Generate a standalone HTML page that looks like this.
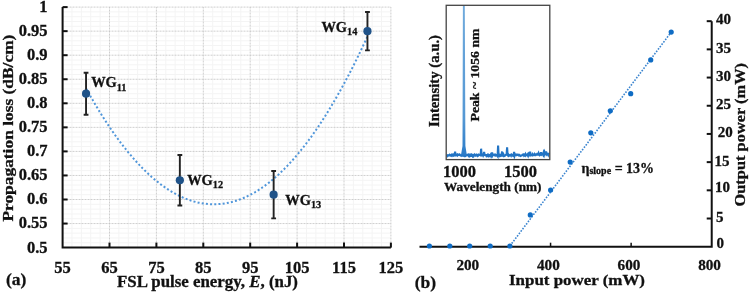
<!DOCTYPE html>
<html><head><meta charset="utf-8"><style>
html,body{margin:0;padding:0;background:#fff;width:749px;height:293px;overflow:hidden}
svg{display:block;filter:blur(0.35px)}
</style></head><body>
<svg width="749" height="293" viewBox="0 0 749 293">
<style>text{stroke:#111;stroke-width:0.3px}</style>
<rect width="749" height="293" fill="#fff"/>
<line x1="71.98" y1="7.10" x2="71.98" y2="247.60" stroke="#f4f4f4" stroke-width="1"/>
<line x1="81.36" y1="7.10" x2="81.36" y2="247.60" stroke="#f4f4f4" stroke-width="1"/>
<line x1="90.74" y1="7.10" x2="90.74" y2="247.60" stroke="#f4f4f4" stroke-width="1"/>
<line x1="100.12" y1="7.10" x2="100.12" y2="247.60" stroke="#f4f4f4" stroke-width="1"/>
<line x1="118.88" y1="7.10" x2="118.88" y2="247.60" stroke="#f4f4f4" stroke-width="1"/>
<line x1="128.26" y1="7.10" x2="128.26" y2="247.60" stroke="#f4f4f4" stroke-width="1"/>
<line x1="137.64" y1="7.10" x2="137.64" y2="247.60" stroke="#f4f4f4" stroke-width="1"/>
<line x1="147.02" y1="7.10" x2="147.02" y2="247.60" stroke="#f4f4f4" stroke-width="1"/>
<line x1="165.78" y1="7.10" x2="165.78" y2="247.60" stroke="#f4f4f4" stroke-width="1"/>
<line x1="175.16" y1="7.10" x2="175.16" y2="247.60" stroke="#f4f4f4" stroke-width="1"/>
<line x1="184.54" y1="7.10" x2="184.54" y2="247.60" stroke="#f4f4f4" stroke-width="1"/>
<line x1="193.92" y1="7.10" x2="193.92" y2="247.60" stroke="#f4f4f4" stroke-width="1"/>
<line x1="212.68" y1="7.10" x2="212.68" y2="247.60" stroke="#f4f4f4" stroke-width="1"/>
<line x1="222.06" y1="7.10" x2="222.06" y2="247.60" stroke="#f4f4f4" stroke-width="1"/>
<line x1="231.44" y1="7.10" x2="231.44" y2="247.60" stroke="#f4f4f4" stroke-width="1"/>
<line x1="240.82" y1="7.10" x2="240.82" y2="247.60" stroke="#f4f4f4" stroke-width="1"/>
<line x1="259.58" y1="7.10" x2="259.58" y2="247.60" stroke="#f4f4f4" stroke-width="1"/>
<line x1="268.96" y1="7.10" x2="268.96" y2="247.60" stroke="#f4f4f4" stroke-width="1"/>
<line x1="278.34" y1="7.10" x2="278.34" y2="247.60" stroke="#f4f4f4" stroke-width="1"/>
<line x1="287.72" y1="7.10" x2="287.72" y2="247.60" stroke="#f4f4f4" stroke-width="1"/>
<line x1="306.48" y1="7.10" x2="306.48" y2="247.60" stroke="#f4f4f4" stroke-width="1"/>
<line x1="315.86" y1="7.10" x2="315.86" y2="247.60" stroke="#f4f4f4" stroke-width="1"/>
<line x1="325.24" y1="7.10" x2="325.24" y2="247.60" stroke="#f4f4f4" stroke-width="1"/>
<line x1="334.62" y1="7.10" x2="334.62" y2="247.60" stroke="#f4f4f4" stroke-width="1"/>
<line x1="353.38" y1="7.10" x2="353.38" y2="247.60" stroke="#f4f4f4" stroke-width="1"/>
<line x1="362.76" y1="7.10" x2="362.76" y2="247.60" stroke="#f4f4f4" stroke-width="1"/>
<line x1="372.14" y1="7.10" x2="372.14" y2="247.60" stroke="#f4f4f4" stroke-width="1"/>
<line x1="381.52" y1="7.10" x2="381.52" y2="247.60" stroke="#f4f4f4" stroke-width="1"/>
<line x1="62.60" y1="242.79" x2="390.90" y2="242.79" stroke="#f4f4f4" stroke-width="1"/>
<line x1="62.60" y1="237.98" x2="390.90" y2="237.98" stroke="#f4f4f4" stroke-width="1"/>
<line x1="62.60" y1="233.17" x2="390.90" y2="233.17" stroke="#f4f4f4" stroke-width="1"/>
<line x1="62.60" y1="228.36" x2="390.90" y2="228.36" stroke="#f4f4f4" stroke-width="1"/>
<line x1="62.60" y1="218.74" x2="390.90" y2="218.74" stroke="#f4f4f4" stroke-width="1"/>
<line x1="62.60" y1="213.93" x2="390.90" y2="213.93" stroke="#f4f4f4" stroke-width="1"/>
<line x1="62.60" y1="209.12" x2="390.90" y2="209.12" stroke="#f4f4f4" stroke-width="1"/>
<line x1="62.60" y1="204.31" x2="390.90" y2="204.31" stroke="#f4f4f4" stroke-width="1"/>
<line x1="62.60" y1="194.69" x2="390.90" y2="194.69" stroke="#f4f4f4" stroke-width="1"/>
<line x1="62.60" y1="189.88" x2="390.90" y2="189.88" stroke="#f4f4f4" stroke-width="1"/>
<line x1="62.60" y1="185.07" x2="390.90" y2="185.07" stroke="#f4f4f4" stroke-width="1"/>
<line x1="62.60" y1="180.26" x2="390.90" y2="180.26" stroke="#f4f4f4" stroke-width="1"/>
<line x1="62.60" y1="170.64" x2="390.90" y2="170.64" stroke="#f4f4f4" stroke-width="1"/>
<line x1="62.60" y1="165.83" x2="390.90" y2="165.83" stroke="#f4f4f4" stroke-width="1"/>
<line x1="62.60" y1="161.02" x2="390.90" y2="161.02" stroke="#f4f4f4" stroke-width="1"/>
<line x1="62.60" y1="156.21" x2="390.90" y2="156.21" stroke="#f4f4f4" stroke-width="1"/>
<line x1="62.60" y1="146.59" x2="390.90" y2="146.59" stroke="#f4f4f4" stroke-width="1"/>
<line x1="62.60" y1="141.78" x2="390.90" y2="141.78" stroke="#f4f4f4" stroke-width="1"/>
<line x1="62.60" y1="136.97" x2="390.90" y2="136.97" stroke="#f4f4f4" stroke-width="1"/>
<line x1="62.60" y1="132.16" x2="390.90" y2="132.16" stroke="#f4f4f4" stroke-width="1"/>
<line x1="62.60" y1="122.54" x2="390.90" y2="122.54" stroke="#f4f4f4" stroke-width="1"/>
<line x1="62.60" y1="117.73" x2="390.90" y2="117.73" stroke="#f4f4f4" stroke-width="1"/>
<line x1="62.60" y1="112.92" x2="390.90" y2="112.92" stroke="#f4f4f4" stroke-width="1"/>
<line x1="62.60" y1="108.11" x2="390.90" y2="108.11" stroke="#f4f4f4" stroke-width="1"/>
<line x1="62.60" y1="98.49" x2="390.90" y2="98.49" stroke="#f4f4f4" stroke-width="1"/>
<line x1="62.60" y1="93.68" x2="390.90" y2="93.68" stroke="#f4f4f4" stroke-width="1"/>
<line x1="62.60" y1="88.87" x2="390.90" y2="88.87" stroke="#f4f4f4" stroke-width="1"/>
<line x1="62.60" y1="84.06" x2="390.90" y2="84.06" stroke="#f4f4f4" stroke-width="1"/>
<line x1="62.60" y1="74.44" x2="390.90" y2="74.44" stroke="#f4f4f4" stroke-width="1"/>
<line x1="62.60" y1="69.63" x2="390.90" y2="69.63" stroke="#f4f4f4" stroke-width="1"/>
<line x1="62.60" y1="64.82" x2="390.90" y2="64.82" stroke="#f4f4f4" stroke-width="1"/>
<line x1="62.60" y1="60.01" x2="390.90" y2="60.01" stroke="#f4f4f4" stroke-width="1"/>
<line x1="62.60" y1="50.39" x2="390.90" y2="50.39" stroke="#f4f4f4" stroke-width="1"/>
<line x1="62.60" y1="45.58" x2="390.90" y2="45.58" stroke="#f4f4f4" stroke-width="1"/>
<line x1="62.60" y1="40.77" x2="390.90" y2="40.77" stroke="#f4f4f4" stroke-width="1"/>
<line x1="62.60" y1="35.96" x2="390.90" y2="35.96" stroke="#f4f4f4" stroke-width="1"/>
<line x1="62.60" y1="26.34" x2="390.90" y2="26.34" stroke="#f4f4f4" stroke-width="1"/>
<line x1="62.60" y1="21.53" x2="390.90" y2="21.53" stroke="#f4f4f4" stroke-width="1"/>
<line x1="62.60" y1="16.72" x2="390.90" y2="16.72" stroke="#f4f4f4" stroke-width="1"/>
<line x1="62.60" y1="11.91" x2="390.90" y2="11.91" stroke="#f4f4f4" stroke-width="1"/>
<line x1="109.50" y1="7.10" x2="109.50" y2="247.60" stroke="#c2c2c2" stroke-width="1" stroke-dasharray="0.8 0.7"/>
<line x1="156.40" y1="7.10" x2="156.40" y2="247.60" stroke="#c2c2c2" stroke-width="1" stroke-dasharray="0.8 0.7"/>
<line x1="203.30" y1="7.10" x2="203.30" y2="247.60" stroke="#c2c2c2" stroke-width="1" stroke-dasharray="0.8 0.7"/>
<line x1="250.20" y1="7.10" x2="250.20" y2="247.60" stroke="#c2c2c2" stroke-width="1" stroke-dasharray="0.8 0.7"/>
<line x1="297.10" y1="7.10" x2="297.10" y2="247.60" stroke="#c2c2c2" stroke-width="1" stroke-dasharray="0.8 0.7"/>
<line x1="344.00" y1="7.10" x2="344.00" y2="247.60" stroke="#c2c2c2" stroke-width="1" stroke-dasharray="0.8 0.7"/>
<line x1="390.90" y1="7.10" x2="390.90" y2="247.60" stroke="#c2c2c2" stroke-width="1" stroke-dasharray="0.8 0.7"/>
<line x1="62.60" y1="223.55" x2="390.90" y2="223.55" stroke="#c2c2c2" stroke-width="1" stroke-dasharray="0.8 0.7"/>
<line x1="62.60" y1="199.50" x2="390.90" y2="199.50" stroke="#c2c2c2" stroke-width="1" stroke-dasharray="0.8 0.7"/>
<line x1="62.60" y1="175.45" x2="390.90" y2="175.45" stroke="#c2c2c2" stroke-width="1" stroke-dasharray="0.8 0.7"/>
<line x1="62.60" y1="151.40" x2="390.90" y2="151.40" stroke="#c2c2c2" stroke-width="1" stroke-dasharray="0.8 0.7"/>
<line x1="62.60" y1="127.35" x2="390.90" y2="127.35" stroke="#c2c2c2" stroke-width="1" stroke-dasharray="0.8 0.7"/>
<line x1="62.60" y1="103.30" x2="390.90" y2="103.30" stroke="#c2c2c2" stroke-width="1" stroke-dasharray="0.8 0.7"/>
<line x1="62.60" y1="79.25" x2="390.90" y2="79.25" stroke="#c2c2c2" stroke-width="1" stroke-dasharray="0.8 0.7"/>
<line x1="62.60" y1="55.20" x2="390.90" y2="55.20" stroke="#c2c2c2" stroke-width="1" stroke-dasharray="0.8 0.7"/>
<line x1="62.60" y1="31.15" x2="390.90" y2="31.15" stroke="#c2c2c2" stroke-width="1" stroke-dasharray="0.8 0.7"/>
<line x1="62.60" y1="7.10" x2="390.90" y2="7.10" stroke="#c2c2c2" stroke-width="1" stroke-dasharray="0.8 0.7"/>
<path d="M62.60 7.10 V247.60 H390.90" fill="none" stroke="#111" stroke-width="2"/>
<line x1="62.60" y1="223.55" x2="67.60" y2="223.55" stroke="#111" stroke-width="2"/>
<line x1="62.60" y1="199.50" x2="67.60" y2="199.50" stroke="#111" stroke-width="2"/>
<line x1="62.60" y1="175.45" x2="67.60" y2="175.45" stroke="#111" stroke-width="2"/>
<line x1="62.60" y1="151.40" x2="67.60" y2="151.40" stroke="#111" stroke-width="2"/>
<line x1="62.60" y1="127.35" x2="67.60" y2="127.35" stroke="#111" stroke-width="2"/>
<line x1="62.60" y1="103.30" x2="67.60" y2="103.30" stroke="#111" stroke-width="2"/>
<line x1="62.60" y1="79.25" x2="67.60" y2="79.25" stroke="#111" stroke-width="2"/>
<line x1="62.60" y1="55.20" x2="67.60" y2="55.20" stroke="#111" stroke-width="2"/>
<line x1="62.60" y1="31.15" x2="67.60" y2="31.15" stroke="#111" stroke-width="2"/>
<line x1="62.60" y1="7.10" x2="67.60" y2="7.10" stroke="#111" stroke-width="2"/>
<line x1="109.50" y1="247.60" x2="109.50" y2="242.60" stroke="#111" stroke-width="2"/>
<line x1="156.40" y1="247.60" x2="156.40" y2="242.60" stroke="#111" stroke-width="2"/>
<line x1="203.30" y1="247.60" x2="203.30" y2="242.60" stroke="#111" stroke-width="2"/>
<line x1="250.20" y1="247.60" x2="250.20" y2="242.60" stroke="#111" stroke-width="2"/>
<line x1="297.10" y1="247.60" x2="297.10" y2="242.60" stroke="#111" stroke-width="2"/>
<line x1="344.00" y1="247.60" x2="344.00" y2="242.60" stroke="#111" stroke-width="2"/>
<line x1="390.90" y1="247.60" x2="390.90" y2="242.60" stroke="#111" stroke-width="2"/>
<text x="47.5" y="252.50" text-anchor="end" font-size="16.5" font-family="Liberation Serif" font-weight="bold" fill="#111">0.5</text>
<text x="47.5" y="228.45" text-anchor="end" font-size="16.5" font-family="Liberation Serif" font-weight="bold" fill="#111">0.55</text>
<text x="47.5" y="204.40" text-anchor="end" font-size="16.5" font-family="Liberation Serif" font-weight="bold" fill="#111">0.6</text>
<text x="47.5" y="180.35" text-anchor="end" font-size="16.5" font-family="Liberation Serif" font-weight="bold" fill="#111">0.65</text>
<text x="47.5" y="156.30" text-anchor="end" font-size="16.5" font-family="Liberation Serif" font-weight="bold" fill="#111">0.7</text>
<text x="47.5" y="132.25" text-anchor="end" font-size="16.5" font-family="Liberation Serif" font-weight="bold" fill="#111">0.75</text>
<text x="47.5" y="108.20" text-anchor="end" font-size="16.5" font-family="Liberation Serif" font-weight="bold" fill="#111">0.8</text>
<text x="47.5" y="84.15" text-anchor="end" font-size="16.5" font-family="Liberation Serif" font-weight="bold" fill="#111">0.85</text>
<text x="47.5" y="60.10" text-anchor="end" font-size="16.5" font-family="Liberation Serif" font-weight="bold" fill="#111">0.9</text>
<text x="47.5" y="36.05" text-anchor="end" font-size="16.5" font-family="Liberation Serif" font-weight="bold" fill="#111">0.95</text>
<text x="47.5" y="12.00" text-anchor="end" font-size="16.5" font-family="Liberation Serif" font-weight="bold" fill="#111">1</text>
<text x="62.60" y="273" text-anchor="middle" font-size="16.5" font-family="Liberation Serif" font-weight="bold" fill="#111">55</text>
<text x="109.50" y="273" text-anchor="middle" font-size="16.5" font-family="Liberation Serif" font-weight="bold" fill="#111">65</text>
<text x="156.40" y="273" text-anchor="middle" font-size="16.5" font-family="Liberation Serif" font-weight="bold" fill="#111">75</text>
<text x="203.30" y="273" text-anchor="middle" font-size="16.5" font-family="Liberation Serif" font-weight="bold" fill="#111">85</text>
<text x="250.20" y="273" text-anchor="middle" font-size="16.5" font-family="Liberation Serif" font-weight="bold" fill="#111">95</text>
<text x="297.10" y="273" text-anchor="middle" font-size="16.5" font-family="Liberation Serif" font-weight="bold" fill="#111">105</text>
<text x="344.00" y="273" text-anchor="middle" font-size="16.5" font-family="Liberation Serif" font-weight="bold" fill="#111">115</text>
<text x="390.90" y="273" text-anchor="middle" font-size="16.5" font-family="Liberation Serif" font-weight="bold" fill="#111">125</text>
<polyline points="86.05,88.39 90.74,96.75 95.43,104.79 100.12,112.52 104.81,119.94 109.50,127.05 114.19,133.84 118.88,140.32 123.57,146.49 128.26,152.35 132.95,157.89 137.64,163.12 142.33,168.04 147.02,172.65 151.71,176.94 156.40,180.92 161.09,184.59 165.78,187.94 170.47,190.99 175.16,193.72 179.85,196.13 184.54,198.24 189.23,200.03 193.92,201.51 198.61,202.67 203.30,203.53 207.99,204.07 212.68,204.30 217.37,204.21 222.06,203.82 226.75,203.11 231.44,202.09 236.13,200.75 240.82,199.10 245.51,197.14 250.20,194.87 254.89,192.29 259.58,189.39 264.27,186.18 268.96,182.65 273.65,178.82 278.34,174.67 283.03,170.21 287.72,165.43 292.41,160.35 297.10,154.95 301.79,149.24 306.48,143.21 311.17,136.87 315.86,130.22 320.55,123.26 325.24,115.99 329.93,108.40 334.62,100.50 339.31,92.29 344.00,83.76 348.69,74.92 353.38,65.77 358.07,56.31 362.76,46.53 367.45,36.44" fill="none" stroke="#5096da" stroke-width="2" stroke-dasharray="2 2.2" stroke-linecap="butt"/>
<path d="M86.05 72.68 V114.68 M83.65 72.68 H88.45 M83.65 114.68 H88.45" stroke="#222" stroke-width="1.9" fill="none"/>
<circle cx="86.05" cy="93.68" r="4.1" fill="#1f5288"/>
<path d="M179.85 154.96 V205.56 M177.45 154.96 H182.25 M177.45 205.56 H182.25" stroke="#222" stroke-width="1.9" fill="none"/>
<circle cx="179.85" cy="180.26" r="4.1" fill="#1f5288"/>
<path d="M273.65 170.99 V218.39 M271.25 170.99 H276.05 M271.25 218.39 H276.05" stroke="#222" stroke-width="1.9" fill="none"/>
<circle cx="273.65" cy="194.69" r="4.1" fill="#1f5288"/>
<path d="M367.45 11.95 V50.35 M365.05 11.95 H369.85 M365.05 50.35 H369.85" stroke="#222" stroke-width="1.9" fill="none"/>
<circle cx="367.45" cy="31.15" r="4.1" fill="#1f5288"/>
<text x="91.2" y="87.1" font-size="14.4" font-family="Liberation Serif" font-weight="bold" fill="#111">WG<tspan font-size="10.3" dy="3.4">11</tspan></text>
<text x="187.2" y="184.6" font-size="14.4" font-family="Liberation Serif" font-weight="bold" fill="#111">WG<tspan font-size="10.3" dy="3.4">12</tspan></text>
<text x="285.3" y="205.0" font-size="14.4" font-family="Liberation Serif" font-weight="bold" fill="#111">WG<tspan font-size="10.3" dy="3.4">13</tspan></text>
<text x="321.4" y="31.7" font-size="14.4" font-family="Liberation Serif" font-weight="bold" fill="#111">WG<tspan font-size="10.3" dy="3.4">14</tspan></text>
<text transform="translate(13,221.6) rotate(-90)" font-size="15" font-family="Liberation Serif" font-weight="bold" fill="#111" textLength="187" lengthAdjust="spacingAndGlyphs">Propagation loss (dB/cm)</text>
<text x="117" y="287.4" font-size="16" font-family="Liberation Serif" font-weight="bold" fill="#111" textLength="181" lengthAdjust="spacingAndGlyphs">FSL pulse energy, <tspan font-style="italic">E</tspan>, (nJ)</text>
<text x="6" y="285.4" font-size="17.5" font-family="Liberation Serif" font-weight="bold" fill="#111">(a)</text>
<text x="414.8" y="287.6" font-size="17.5" font-family="Liberation Serif" font-weight="bold" fill="#111">(b)</text>
<path d="M419.5 246.70 H711.72 V21.18" fill="none" stroke="#111" stroke-width="2"/>
<line x1="706.72" y1="218.51" x2="711.72" y2="218.51" stroke="#111" stroke-width="2"/>
<text x="716" y="222.01" font-size="15" font-family="Liberation Serif" font-weight="bold" fill="#111">5</text>
<line x1="706.72" y1="190.32" x2="711.72" y2="190.32" stroke="#111" stroke-width="2"/>
<text x="715" y="191.52" font-size="15" font-family="Liberation Serif" font-weight="bold" fill="#111">10</text>
<line x1="706.72" y1="162.13" x2="711.72" y2="162.13" stroke="#111" stroke-width="2"/>
<text x="714.5" y="165.63" font-size="15" font-family="Liberation Serif" font-weight="bold" fill="#111">15</text>
<line x1="706.72" y1="133.94" x2="711.72" y2="133.94" stroke="#111" stroke-width="2"/>
<text x="717.7" y="137.44" font-size="15" font-family="Liberation Serif" font-weight="bold" fill="#111">20</text>
<line x1="706.72" y1="105.75" x2="711.72" y2="105.75" stroke="#111" stroke-width="2"/>
<text x="716" y="109.25" font-size="15" font-family="Liberation Serif" font-weight="bold" fill="#111">25</text>
<line x1="706.72" y1="77.56" x2="711.72" y2="77.56" stroke="#111" stroke-width="2"/>
<text x="716" y="81.06" font-size="15" font-family="Liberation Serif" font-weight="bold" fill="#111">30</text>
<line x1="706.72" y1="49.37" x2="711.72" y2="49.37" stroke="#111" stroke-width="2"/>
<text x="716" y="52.87" font-size="15" font-family="Liberation Serif" font-weight="bold" fill="#111">35</text>
<line x1="706.72" y1="21.18" x2="711.72" y2="21.18" stroke="#111" stroke-width="2"/>
<text x="716" y="23.68" font-size="15" font-family="Liberation Serif" font-weight="bold" fill="#111">40</text>
<text x="716.5" y="248.20" font-size="15" font-family="Liberation Serif" font-weight="bold" fill="#111">0</text>
<line x1="550.56" y1="246.70" x2="550.56" y2="242.70" stroke="#111" stroke-width="1.5"/>
<line x1="631.14" y1="246.70" x2="631.14" y2="242.70" stroke="#111" stroke-width="1.5"/>
<text x="467.78" y="270" text-anchor="middle" font-size="15.2" font-family="Liberation Serif" font-weight="bold" fill="#111">200</text>
<text x="548.36" y="270" text-anchor="middle" font-size="15.2" font-family="Liberation Serif" font-weight="bold" fill="#111">400</text>
<text x="628.94" y="270" text-anchor="middle" font-size="15.2" font-family="Liberation Serif" font-weight="bold" fill="#111">600</text>
<text x="709.52" y="270" text-anchor="middle" font-size="15.2" font-family="Liberation Serif" font-weight="bold" fill="#111">800</text>
<text x="509" y="284.8" font-size="15.5" font-family="Liberation Serif" font-weight="bold" fill="#111" textLength="136" lengthAdjust="spacingAndGlyphs">Input power (mW)</text>
<text transform="translate(744.5,206.5) rotate(-90)" font-size="15.5" font-family="Liberation Serif" font-weight="bold" fill="#111" textLength="143.5" lengthAdjust="spacingAndGlyphs">Output power (mW)</text>
<line x1="509.9" y1="246" x2="671.2" y2="32.1" stroke="#3a84cf" stroke-width="1.6" stroke-dasharray="1.6 1.4"/>
<circle cx="429.4" cy="246" r="2.6" fill="#0f6cc4"/>
<circle cx="449.8" cy="246" r="2.6" fill="#0f6cc4"/>
<circle cx="469.7" cy="246" r="2.6" fill="#0f6cc4"/>
<circle cx="490.2" cy="246" r="2.6" fill="#0f6cc4"/>
<circle cx="509.9" cy="246" r="2.6" fill="#0f6cc4"/>
<circle cx="530.3" cy="214.9" r="2.6" fill="#0f6cc4"/>
<circle cx="550.6" cy="190" r="2.6" fill="#0f6cc4"/>
<circle cx="570.2" cy="162.1" r="2.6" fill="#0f6cc4"/>
<circle cx="590.8" cy="132.8" r="2.6" fill="#0f6cc4"/>
<circle cx="610.3" cy="110.8" r="2.6" fill="#0f6cc4"/>
<circle cx="630.7" cy="93.7" r="2.6" fill="#0f6cc4"/>
<circle cx="650.7" cy="59.9" r="2.6" fill="#0f6cc4"/>
<circle cx="671.2" cy="32.1" r="2.6" fill="#0f6cc4"/>
<text x="581.5" y="172.9" font-size="14" font-family="Liberation Serif" font-weight="bold" fill="#111">η<tspan font-size="10" dy="1.3">slope</tspan><tspan dy="-0.9"> = 13%</tspan></text>
<polyline points="446.6,155.2 447.1,155.4 447.6,156.0 448.1,155.2 448.6,155.3 449.1,155.4 449.6,154.8 450.1,155.3 450.6,155.5 451.1,155.8 451.6,154.7 452.1,155.0 452.6,154.6 453.1,155.8 453.6,155.6 454.1,154.6 454.6,156.1 455.1,151.6 455.6,155.5 456.1,155.5 456.6,154.8 457.1,154.5 457.6,155.3 458.1,154.6 458.6,154.8 459.1,154.9 459.6,154.5 460.1,155.2 460.6,155.2 461.1,155.8 461.6,155.3 462.1,155.5 462.6,155.3 463.1,155.6 463.6,155.2 464.1,154.9 464.6,156.1 465.1,156.1 465.6,155.8 466.1,155.6 466.6,155.0 467.1,154.9 467.6,155.0 468.1,154.6 468.6,155.7 469.1,155.1 469.6,155.9 470.1,155.1 470.6,156.0 471.1,155.9 471.6,154.5 472.1,154.8 472.6,156.0 473.1,155.3 473.6,156.1 474.1,155.1 474.6,154.6 475.1,155.5 475.6,155.7 476.1,154.9 476.6,154.6 477.1,155.0 477.6,156.0 478.1,155.7 478.6,154.7 479.1,154.9 479.6,154.7 480.1,154.6 480.6,155.8 481.1,148.7 481.6,155.4 482.1,155.2 482.6,154.8 483.1,155.7 483.6,154.7 484.1,152.0 484.6,154.7 485.1,155.2 485.6,154.8 486.1,154.9 486.6,156.1 487.1,155.8 487.6,155.0 488.1,155.9 488.6,154.8 489.1,155.1 489.6,155.9 490.1,155.5 490.6,154.7 491.1,156.1 491.6,154.8 492.1,152.5 492.6,155.7 493.1,155.0 493.6,155.0 494.1,154.6 494.6,154.6 495.1,155.4 495.6,154.9 496.1,155.5 496.6,155.1 497.1,155.2 497.6,156.0 498.1,145.5 498.6,155.4 499.1,155.9 499.6,154.8 500.1,154.7 500.6,156.0 501.1,155.8 501.6,154.9 502.1,151.5 502.6,155.7 503.1,156.0 503.6,154.8 504.1,156.0 504.6,155.9 505.1,155.5 505.6,155.2 506.1,154.7 506.6,154.6 507.1,147.3 507.6,154.9 508.1,155.6 508.6,154.9 509.1,155.8 509.6,155.5 510.1,155.0 510.6,154.8 511.1,155.7 511.6,154.6 512.1,154.9 512.6,155.4 513.1,155.9 513.6,155.5 514.1,152.0 514.6,156.0 515.1,154.8 515.6,154.5 516.1,154.9 516.6,155.2 517.1,154.6 517.6,154.8 518.1,155.1 518.6,155.4 519.1,154.7 519.6,155.1 520.1,155.9 520.6,156.0 521.1,155.5 521.6,155.5 522.1,155.3 522.6,154.6 523.1,154.4 523.6,154.3 524.1,155.7 524.6,155.3 525.1,155.7 525.6,154.2 526.1,155.2 526.6,154.9 527.1,155.3 527.6,154.5 528.1,155.7 528.6,154.0 529.1,154.8 529.6,155.2 530.1,151.7 530.6,155.1 531.1,155.0 531.6,155.2 532.1,155.4 532.6,154.2 533.1,154.9 533.6,155.3 534.1,155.3 534.6,154.2 535.1,155.0 535.6,155.2 536.1,154.5 536.6,154.6 537.1,154.0 537.6,154.4 538.1,154.5 538.6,153.2 539.1,154.5 539.6,155.3 540.1,155.0 540.6,154.6 541.1,152.3 541.6,154.6 542.1,154.2 542.6,153.8 543.1,154.8 543.6,152.8 544.1,154.5 544.6,152.5 545.1,154.1 545.6,153.7 546.1,151.5 546.6,154.3 547.1,153.7 547.6,154.0 548.1,154.9 548.6,152.8" fill="none" stroke="#2274c4" stroke-width="2.1" stroke-linejoin="miter"/>
<defs><linearGradient id="pk" x1="0" y1="0" x2="0" y2="1"><stop offset="0" stop-color="#70aadc"/><stop offset="0.75" stop-color="#5598d4"/><stop offset="1" stop-color="#2a7bc8"/></linearGradient></defs>
<path d="M460.9 155.5 L462.5 146 L462.9 5.8 L464.8 5.8 L465.4 146 L466.9 155.5 Z" fill="url(#pk)"/>
<rect x="446.2" y="5.3" width="103.6" height="154.3" fill="none" stroke="#444" stroke-width="1.3"/>
<text transform="translate(438.5,127) rotate(-90)" font-size="14" font-family="Liberation Serif" font-weight="bold" fill="#111" textLength="92" lengthAdjust="spacingAndGlyphs">Intensity (a.u.)</text>
<text transform="translate(479,121.5) rotate(-90)" font-size="13.5" font-family="Liberation Serif" font-weight="bold" fill="#111" textLength="93" lengthAdjust="spacingAndGlyphs">Peak ~ 1056 nm</text>
<text x="459.5" y="176.8" text-anchor="middle" font-size="16.5" font-family="Liberation Serif" font-weight="bold" fill="#111">1000</text>
<text x="520.4" y="177" text-anchor="middle" font-size="16.5" font-family="Liberation Serif" font-weight="bold" fill="#111">1500</text>
<text x="444" y="191" font-size="12" font-family="Liberation Serif" font-weight="bold" fill="#111" textLength="97.5" lengthAdjust="spacingAndGlyphs">Wavelength (nm)</text>
</svg></body></html>
